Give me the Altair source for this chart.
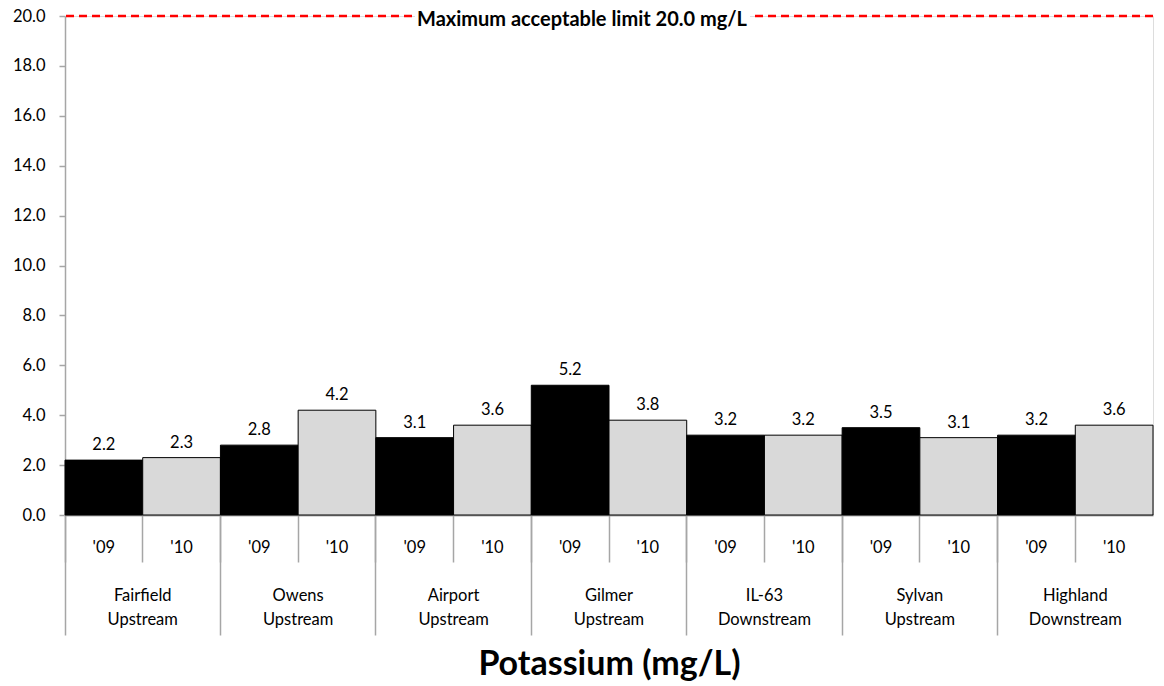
import altair as alt
import pandas as pd

groups = ["Fairfield~Upstream", "Owens~Upstream", "Airport~Upstream", "Gilmer~Upstream",
          "IL-63~Downstream", "Sylvan~Upstream", "Highland~Downstream"]
years = ["'09", "'10"]
vals_09 = [2.2, 2.8, 3.1, 5.2, 3.2, 3.5, 3.2]
vals_10 = [2.3, 4.2, 3.6, 3.8, 3.2, 3.1, 3.6]
limit = 20.0
y_ticks = [0, 2, 4, 6, 8, 10, 12, 14, 16, 18, 20]

rows = []
for g, a, b in zip(groups, vals_09, vals_10):
    rows.append({"group": g, "year": years[0], "key": f"{g}|{years[0]}", "value": a})
    rows.append({"group": g, "year": years[1], "key": f"{g}|{years[1]}", "value": b})
df = pd.DataFrame(rows)
keys = list(df["key"])

FONT = "Lato"
GRAY = "#a6a6a6"
FS = 16.5

yenc = alt.Y("value:Q", scale=alt.Scale(domain=[0, 20], nice=False),
             axis=alt.Axis(values=y_ticks, format=".1f", title=None, grid=False,
                           domainColor=GRAY, domainWidth=1.5, tickColor=GRAY, tickWidth=1.5,
                           tickSize=6, labelPadding=14, labelFontSize=FS, labelColor="black",
                           labelFont=FONT))

xenc = alt.X("key:N", sort=keys, scale=alt.Scale(type="band", paddingInner=0, paddingOuter=0),
             axis=alt.Axis(orient="bottom", title=None, labelExpr="split(datum.label, '|')[1]",
                           labelAngle=0, bandPosition=0, tickSize=47, tickColor=GRAY,
                           tickWidth=1.5, domainColor=GRAY, domainWidth=1.5,
                           labelPadding=-23, labelFontSize=FS, labelColor="black",
                           labelFont=FONT))

bars = alt.Chart(df).mark_bar(stroke="black", strokeWidth=1).encode(
    x=xenc, y=yenc,
    color=alt.Color("year:N", scale=alt.Scale(domain=years, range=["black", "#d9d9d9"]), legend=None),
)

labels = alt.Chart(df).mark_text(baseline="bottom", dy=-7, fontSize=FS, font=FONT, color="black").encode(
    x=alt.X("key:N", sort=keys), y=alt.Y("value:Q"), text=alt.Text("value:Q", format=".1f"),
)

limit_df = pd.DataFrame({"limit": [limit], "label": [f"Maximum acceptable limit {limit:.1f} mg/L"]})
rule = alt.Chart(limit_df).mark_rule(color="red", strokeDash=[8, 5], strokeWidth=2.5).encode(
    y=alt.Y("limit:Q"))
bg = alt.Chart(limit_df).mark_rect(color="white").encode(
    x=alt.value(350), x2=alt.value(685), y=alt.value(-8), y2=alt.value(10))
limit_text = alt.Chart(limit_df).mark_text(fontWeight="bold", fontSize=20, font=FONT, color="black",
                                           baseline="middle", dy=4).encode(
    x=alt.value(517), y=alt.Y("limit:Q"), text="label:N")

main = alt.layer(bars, labels, rule, bg, limit_text)

group_axis = alt.Chart(df).mark_bar(opacity=0).encode(
    x=alt.X("group:N", sort=groups, scale=alt.Scale(type="band", paddingInner=0, paddingOuter=0),
            axis=alt.Axis(orient="bottom", title="Potassium (mg/L)", labelExpr="split(datum.label, '~')",
                          labelAngle=0, bandPosition=0, tickSize=120, tickColor=GRAY, tickWidth=1.5,
                          domainColor=GRAY, domainWidth=1.5, labelPadding=-48, labelLineHeight=24,
                          labelFontSize=FS, labelColor="black", labelFont=FONT,
                          titleFont=FONT, titleFontSize=34, titleFontWeight="bold",
                          titleColor="black", titlePadding=12)),
    y=alt.value(499), y2=alt.value(499),
)

chart = alt.layer(main, group_axis).resolve_scale(
    x="independent"
).properties(
    width=1088, height=499,
    autosize=alt.AutoSizeParams(type="none"),
    padding={"left": 57, "top": 8, "right": 3, "bottom": 170},
).configure_view(stroke=None).configure(font=FONT)

chart.save("out.html", embed_options={"renderer": "svg", "actions": False})
